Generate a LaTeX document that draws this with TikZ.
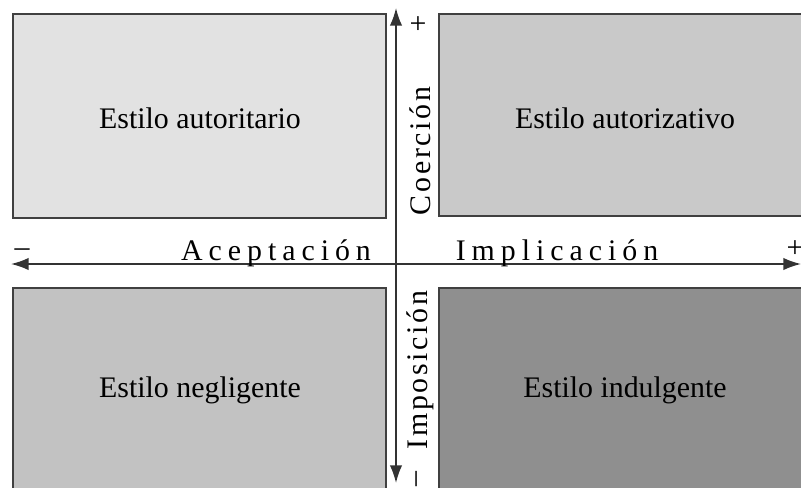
\documentclass[tikz,border=0pt]{standalone}
\usepackage{fontspec}
\setmainfont{Liberation Serif}
\usetikzlibrary{arrows.meta}
\definecolor{gris1}{HTML}{E2E2E2}
\definecolor{gris2}{HTML}{C9C9C9}
\definecolor{gris3}{HTML}{C2C2C2}
\definecolor{gris4}{HTML}{8F8F8F}
\tikzset{
  cuadro/.style={draw=black!75,line width=0.9pt},
  eje/.style={line width=0.9pt,draw=black!80,{Latex[length=10pt,width=7pt]}-{Latex[length=10pt,width=7pt]}},
  signo/.style={font=\fontsize{17}{17}\selectfont,inner sep=0pt},
  rotulo/.style={font=\fontsize{17}{19}\selectfont\addfontfeature{LetterSpace=20}},
  vertical/.style={rotate=90,font=\fontsize{17}{19}\selectfont\addfontfeature{LetterSpace=9}},
}
\begin{document}
\begin{tikzpicture}[x=0.02cm,y=-0.02cm,font=\fontsize{17}{19}\selectfont]
\useasboundingbox (0,0) rectangle (801,487);
\clip (0,0) rectangle (801,487);
% cuadrantes
\draw[cuadro,fill=gris1](13,14) rectangle (386,218);
\draw[cuadro,fill=gris2](439,14) rectangle (812,216);
\draw[cuadro,fill=gris3](13,288) rectangle (386,500);
\draw[cuadro,fill=gris4](439,288) rectangle (812,500);
\node (autoritario) at (200,118) {Estilo autoritario};
\node (autorizativo) at (625,118) {Estilo autorizativo};
\node (negligente) at (200,390) {Estilo negligente};
\node (indulgente) at (625,390) {Estilo indulgente};
% ejes
\coordinate (arriba) at (396,8);
\coordinate (abajo) at (396,483);
\coordinate (izq) at (11,264);
\coordinate (der) at (801,264);
\draw[eje](abajo)--(arriba);
\draw[eje](izq)--(der);
\node[signo] (mas1) at (418,25) {+};
\node[signo] (menos1) at (22,253) {--};
\node[signo] (mas2) at (795,249) {+};
\node[signo,rotate=90] (menos2) at (420,479) {--};
\node[rotulo] (aceptacion) at (276,253) {Aceptación};
\node[rotulo] (implicacion) at (557,253) {Implicación};
\node[vertical] (coercion) at (420,151) {Coerción};
\node[vertical] (imposicion) at (420,370) {Imposición};
\end{tikzpicture}
\end{document}
